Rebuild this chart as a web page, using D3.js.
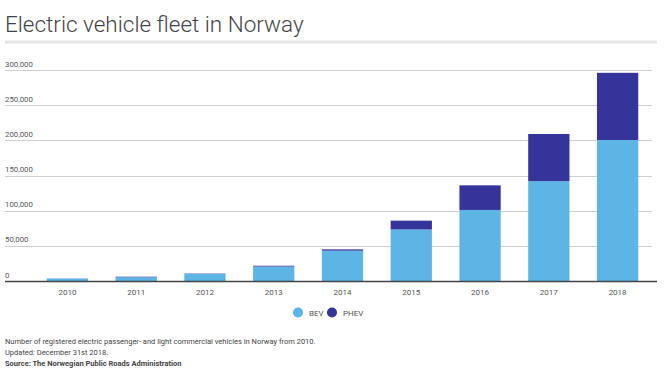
<!DOCTYPE html>
<html>
<head>
<meta charset="utf-8">
<script src="https://cdn.jsdelivr.net/npm/d3@7"></script>
<style>
  html, body { margin: 0; padding: 0; background: #fff; }
  svg { display: block; font-family: Roboto, "Noto Sans", sans-serif; }
</style>
</head>
<body>
<div id="chart"></div>
<script>
// data
const years = ["2010", "2011", "2012", "2013", "2014", "2015", "2016", "2017", "2018"];
const bev = [3400, 5400, 10000, 20600, 43100, 73300, 101000, 142000, 200500];
const phev = [150, 700, 500, 1100, 1900, 12500, 35000, 67000, 95500];
const seriesNames = ["BEV", "PHEV"];
const yTicks = [0, 50000, 100000, 150000, 200000, 250000, 300000];
const colors = ["#5db5e6", "#34349a"];
const notes = [
  "Number of registered electric passenger- and light commercial vehicles in Norway from 2010.",
  "Updated: December 31st 2018."
];
const source = "Source: The Norwegian Public Roads Administration";

const W = 666, H = 374;
const svg = d3.select("#chart").append("svg").attr("width", W).attr("height", H);

// title + grey rule
svg.append("text").attr("x", 5).attr("y", 32)
  .style("font-size", "22.5px").style("font-weight", 300).style("fill", "#444")
  .text("Electric vehicle fleet in Norway");
svg.append("rect").attr("x", 5).attr("y", 40.5).attr("width", 652).attr("height", 3)
  .attr("fill", "#e6e6e6");

// scales
const x = d3.scaleBand().domain(years).range([33, 652]).paddingInner(0.4).paddingOuter(0.2);
const y = d3.scaleLinear().domain([0, 300000]).range([281, 70]);

// gridlines + tick labels
const grid = svg.append("g");
grid.selectAll("line").data(yTicks.slice(1)).join("line")
  .attr("x1", 5).attr("x2", 652)
  .attr("y1", d => Math.round(y(d)) + 0.5).attr("y2", d => Math.round(y(d)) + 0.5)
  .attr("stroke", "#cfcfcf");
grid.selectAll("text").data(yTicks).join("text")
  .attr("x", 5).attr("y", d => y(d) - 3.5)
  .style("font-size", "7.8px").style("fill", "#555")
  .text(d => d3.format(",")(d));

// stacked bars
const rows = years.map((yr, i) => ({ year: yr, BEV: bev[i], PHEV: phev[i] }));
const stacked = d3.stack().keys(seriesNames)(rows);
svg.append("g").selectAll("g").data(stacked).join("g")
  .attr("fill", (d, i) => colors[i])
  .selectAll("rect").data(d => d).join("rect")
  .attr("x", d => x(d.data.year))
  .attr("width", x.bandwidth())
  .attr("y", d => y(d[1]))
  .attr("height", d => y(d[0]) - y(d[1]));

// x axis
const xAxis = svg.append("g").attr("transform", "translate(0,281)")
  .call(d3.axisBottom(x).tickSize(0).tickPadding(8));
xAxis.select(".domain").remove();
xAxis.selectAll("text").style("font-size", "8px").style("fill", "#555")
  .style("font-family", "Roboto, sans-serif");
svg.append("line").attr("x1", 5).attr("x2", 657).attr("y1", 281.5).attr("y2", 281.5)
  .attr("stroke", "#444").attr("stroke-width", 1.5);

// legend
const legend = svg.append("g").attr("transform", "translate(298,312.5)");
const lx = [0, 34];
seriesNames.forEach((name, i) => {
  legend.append("circle").attr("cx", lx[i]).attr("cy", 0).attr("r", 5).attr("fill", colors[i]);
  legend.append("text").attr("x", lx[i] + 11).attr("y", 3)
    .style("font-size", "8px").style("fill", "#555").text(name);
});

// footer notes
const foot = svg.append("g");
notes.forEach((t, i) => {
  foot.append("text").attr("x", 5).attr("y", 344 + i * 11)
    .style("font-size", "7.5px").style("fill", "#444").text(t);
});
foot.append("text").attr("x", 5).attr("y", 366)
  .style("font-size", "7.5px").style("font-weight", 700).style("fill", "#444").text(source);
</script>
</body>
</html>
